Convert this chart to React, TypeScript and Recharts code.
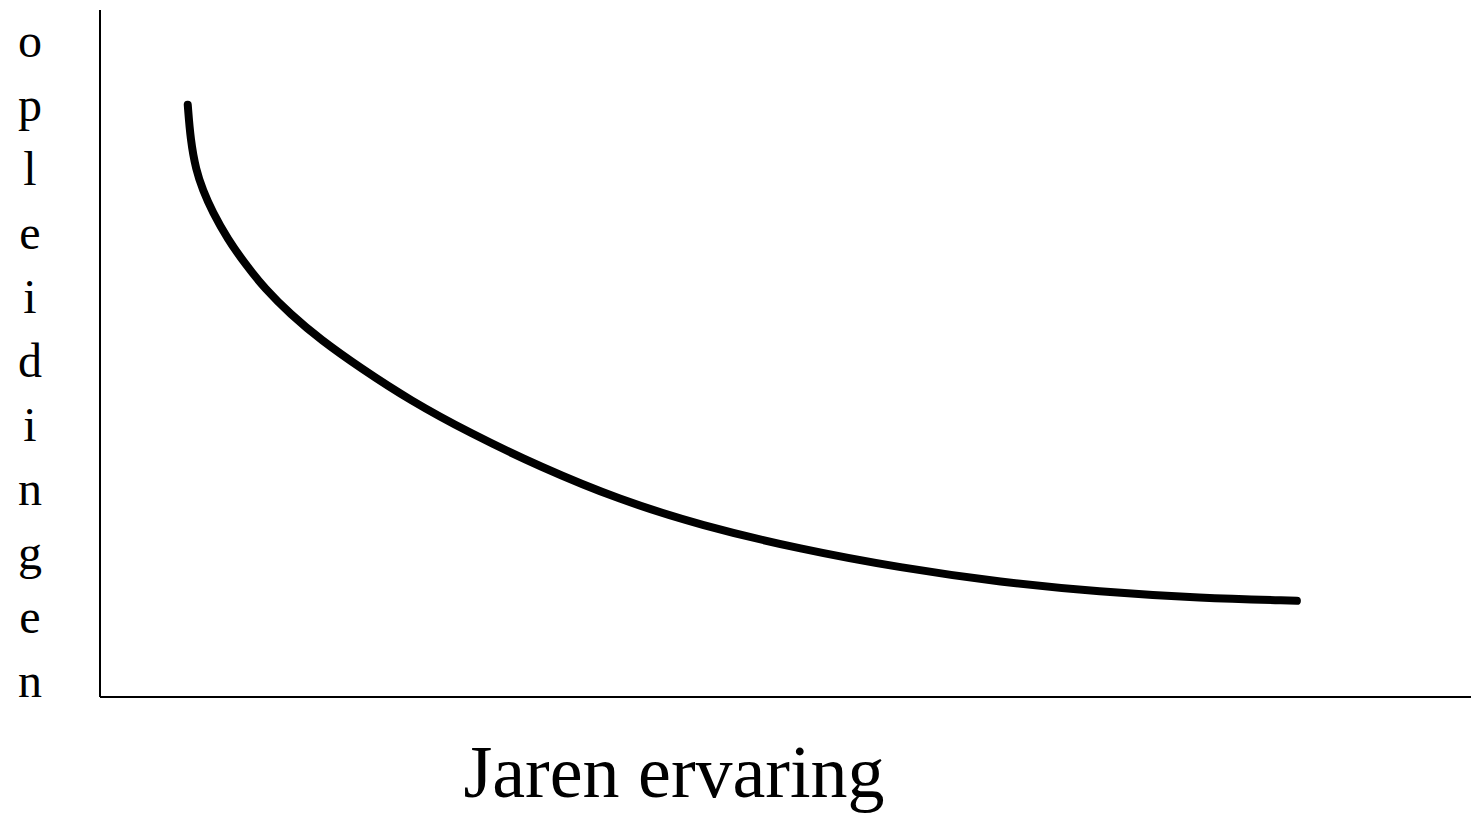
import { LineChart, Line, XAxis, YAxis, Label } from 'recharts'

// values (x: years of experience, y: trainings), both on a 0-100 scale
const years = [6.4, 6.6, 7.0, 7.5, 8.2, 9.3, 10.6, 12.0, 13.9, 16.1, 19.0, 22.6, 27.0, 32.1, 37.9, 43.8, 51.1, 58.4, 65.7, 72.9, 80.2, 87.3]
const trainings = [86.2, 81.1, 76.7, 73.8, 70.6, 66.7, 63.0, 59.5, 55.7, 52.0, 47.9, 43.2, 38.4, 33.5, 28.7, 25.0, 21.5, 18.8, 16.7, 15.3, 14.4, 14.0]

const xTitle = 'Jaren ervaring'
const yTitle = 'opleidingen'

const chartData = years.map((x, i) => ({ x, y: trainings[i] }))

const font = '"Liberation Serif", "Times New Roman", serif'

export default function App() {
  return (
    <div style={{ position: 'absolute', left: 0, top: 0, background: '#fff' }}>
      <LineChart
        width={1471}
        height={814}
        data={chartData}
        margin={{ top: 10, right: 0, bottom: 0, left: 0 }}
      >
        <XAxis
          dataKey="x"
          type="number"
          domain={[0, 100]}
          height={117}
          tick={false}
          tickLine={false}
          axisLine={{ stroke: '#000', strokeWidth: 2 }}
        >
          <Label
            content={() => (
              <text
                x={674}
                y={797}
                textAnchor="middle"
                fontFamily={font}
                fontSize={74}
                fill="#000"
              >
                {xTitle}
              </text>
            )}
          />
        </XAxis>
        <YAxis
          type="number"
          domain={[0, 100]}
          width={100}
          tick={false}
          tickLine={false}
          axisLine={{ stroke: '#000', strokeWidth: 2 }}
        >
          <Label
            content={() => (
              <text fontFamily={font} fontSize={48} fill="#000" textAnchor="middle">
                {yTitle.split('').map((ch, i) => (
                  <tspan key={i} x={30} y={57 + i * 64}>
                    {ch}
                  </tspan>
                ))}
              </text>
            )}
          />
        </YAxis>
        <Line
          type="basis"
          dataKey="y"
          stroke="#000"
          strokeWidth={8}
          strokeLinecap="round"
          strokeLinejoin="round"
          dot={false}
          activeDot={false}
          isAnimationActive={false}
        />
      </LineChart>
    </div>
  )
}
